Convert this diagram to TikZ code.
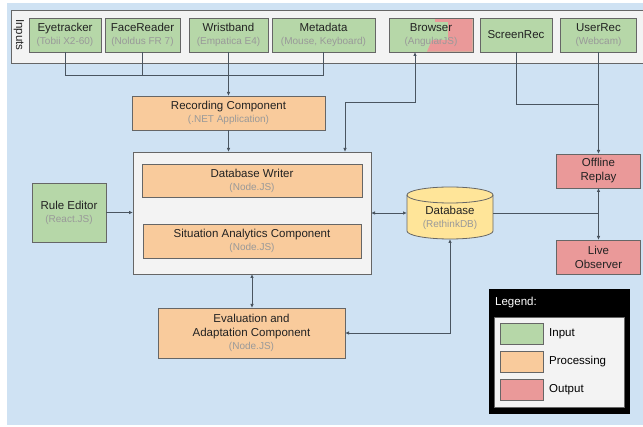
\documentclass[tikz,border=0pt]{standalone}
\usepackage{fontspec}
\setmainfont{Liberation Sans}
\usetikzlibrary{arrows.meta}

\definecolor{bgblue}{HTML}{CFE2F3}
\definecolor{panelgray}{HTML}{F3F3F3}
\definecolor{ingreen}{HTML}{B6D7A8}
\definecolor{procorange}{HTML}{F9CB9C}
\definecolor{outred}{HTML}{EA9999}
\definecolor{dbyellow}{HTML}{FFE599}
\definecolor{linegray}{HTML}{666666}
\definecolor{conngray}{HTML}{4A5560}
\definecolor{subgray}{HTML}{999999}
\definecolor{textdark}{HTML}{222222}

\newcommand{\subt}[1]{{\fontsize{10}{13}\selectfont\color{subgray}#1}}

\tikzset{
    box/.style={draw=linegray, line width=0.8pt, inner sep=0pt, outer sep=0pt,
        align=center, text=textdark, font=\fontsize{11.5}{13}\selectfont},
    inbox/.style={box, fill=ingreen},
    procbox/.style={box, fill=procorange},
    outbox/.style={box, fill=outred, font=\fontsize{11.5}{14}\selectfont},
    conn/.style={draw=conngray, line width=0.8pt},
    legswatch/.style={draw=linegray, line width=0.8pt, minimum width=43pt, minimum height=21pt, inner sep=0pt},
    leglabel/.style={anchor=west, inner sep=0pt, text=black, font=\fontsize{11.5}{13}\selectfont},
}

\begin{document}
\begin{tikzpicture}[x=1pt, y=-1pt, >={Latex[length=4pt,width=3.5pt]}]
        \useasboundingbox (0,0) rectangle (643,427);
        \fill[white] (0,0) rectangle (643,427);
        \fill[bgblue] (7,3) rectangle (643,425);

        % inputs
        \draw[draw=linegray, fill=panelgray, line width=0.8pt] (11,10) rectangle (650,63);
        \node[rotate=-90, inner sep=0pt, text=textdark, font=\fontsize{11.5}{13}\selectfont] (inlbl) at (19,35) {Inputs};

        \node[inbox, minimum width=72pt, minimum height=34pt] (eye) at (65,35) {Eyetracker\\\subt{(Tobii X2-60)}};
        \node[inbox, minimum width=75pt, minimum height=34pt] (face) at (142.5,35) {FaceReader\\\subt{(Noldus FR 7)}};
        \node[inbox, minimum width=79pt, minimum height=34pt] (wrist) at (228.5,35) {Wristband\\\subt{(Empatica E4)}};
        \node[inbox, minimum width=103pt, minimum height=34pt] (meta) at (323.5,35) {Metadata\\\subt{(Mouse, Keyboard)}};
        \node[inbox, minimum width=84pt, minimum height=34pt] (browser) at (431,35) {};
        \fill[outred] (435,18.4) -- (472.6,18.4) -- (472.6,51.6) -- (427,51.6) -- (432,40) -- (448,40) -- (448,22) -- (435,22) -- cycle;
        \draw[draw=linegray, line width=0.8pt] (browser.north west) rectangle (browser.south east);
        \node[align=center, inner sep=0pt, text=textdark, font=\fontsize{11.5}{13}\selectfont] (browsertxt) at (browser.center) {Browser\\\subt{(AngularJS)}};
        \node[inbox, minimum width=72pt, minimum height=34pt] (screen) at (516,35) {ScreenRec};
        \node[inbox, minimum width=76pt, minimum height=34pt] (user) at (598.5,35) {UserRec\\\subt{(Webcam)}};

        % processing
        \node[procbox, minimum width=193pt, minimum height=34pt] (rec) at (228.5,113) {Recording Component\\\subt{(.NET Application)}};
        \node[box, fill=panelgray, minimum width=238pt, minimum height=122pt] (big) at (252,213) {};
        \node[procbox, minimum width=220pt, minimum height=33pt] (dbw) at (252,180.5) {Database Writer\\\subt{(Node.JS)}};
        \node[procbox, minimum width=218pt, minimum height=34pt] (sit) at (252,241) {Situation Analytics Component\\\subt{(Node.JS)}};
        \node[inbox, minimum width=74pt, minimum height=59pt] (rule) at (69,212.5) {Rule Editor\\\subt{(React.JS)}};
        \node[procbox, minimum width=187pt, minimum height=50pt, font=\fontsize{11.5}{13.5}\selectfont] (eval) at (251.5,333) {Evaluation and\\Adaptation Component\\\subt{(Node.JS)}};

        % database
        \filldraw[draw=linegray, fill=dbyellow, line width=0.8pt]
            (407,195) -- (407,231) arc (180:0:43 and 8) -- (493,195) arc (0:-180:43 and 8) -- cycle;
        \draw[draw=linegray, line width=0.8pt] (407,195) arc (180:0:43 and 8);
        \node[inner sep=0pt, outer sep=0pt, minimum width=86pt, minimum height=52pt] (db) at (450,213) {};
        \node[align=center, inner sep=0pt, text=textdark, font=\fontsize{11.5}{13}\selectfont] (dbtxt) at ([yshift=-5pt]db.center) {Database\\\subt{(RethinkDB)}};

        % outputs
        \node[outbox, minimum width=84pt, minimum height=34pt] (offline) at (598.5,171) {Offline\\Replay};
        \node[outbox, minimum width=84pt, minimum height=34pt] (live) at (598.5,257) {Live\\Observer};

        % connectors
        \draw[conn] (eye.south) -- ++(0,23) -| (meta.south);
        \draw[conn] (face.south) -- ++(0,23);
        \draw[conn, ->] (wrist.south) -- (rec.north);
        \draw[conn, ->] (rec.south) -- (rec.south |- big.north);
        \draw[conn, <->] ([xshift=93pt]big.north) -- ++(0,-50) -| ([xshift=-16pt]browser.south);
        \coordinate (scrjoin) at (598.5,104);
        \draw[conn] (screen.south) |- (scrjoin);
        \draw[conn, ->] (user.south) -- (offline.north);
        \draw[conn, ->] (rule.east) -- (rule.east -| big.west);
        \draw[conn, <->] (big.east) -- (db.west);
        \draw[conn, ->] (db.east) -| (offline.south);
        \draw[conn, ->] (db.east) -| (live.north);
        \draw[conn, <->] (big.south) -- (big.south |- eval.north);
        \draw[conn, <->] (db.south) |- (eval.east);

        % legend
        \fill[black] (489,289) rectangle (630,414);
        \node[anchor=west, inner sep=0pt, text=white, font=\fontsize{11.5}{13}\selectfont] (leghead) at (495,303) {Legend:};
        \draw[draw=linegray, fill=panelgray, line width=0.8pt] (494,317) rectangle (624,407);
        \node[legswatch, fill=ingreen] (legin) at (521.5,333.5) {};
        \node[legswatch, fill=procorange] (legproc) at (521.5,361.5) {};
        \node[legswatch, fill=outred] (legout) at (521.5,389.5) {};
        \node[leglabel] (leginlbl) at (549,333.5) {Input};
        \node[leglabel] (legproclbl) at (549,361.5) {Processing};
        \node[leglabel] (legoutlbl) at (549,389.5) {Output};

    \end{tikzpicture}
\end{document}
